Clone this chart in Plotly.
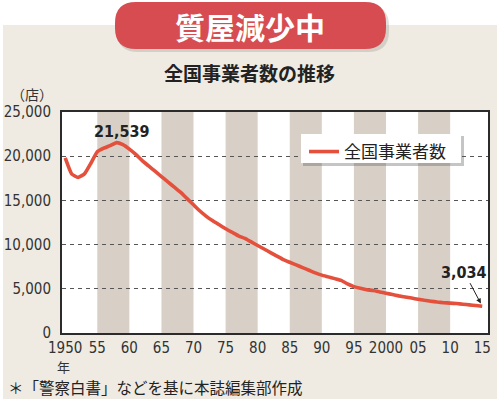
import plotly.graph_objects as go

# ---------------- data ----------------
years = list(range(1950, 2016))
shops = [19800, 18000, 17600, 18000, 19200, 20500, 20900, 21200, 21539, 21300,
         20800, 20200, 19500, 18900, 18300, 17700, 17100, 16500, 15900, 15200,
         14500, 13800, 13200, 12700, 12250, 11800, 11400, 11000, 10700, 10300,
         9900, 9500, 9100, 8700, 8300, 8000, 7700, 7400, 7100, 6800,
         6550, 6350, 6150, 5950, 5550, 5250, 5050, 4900, 4800, 4650,
         4500, 4350, 4200, 4080, 3950, 3820, 3700, 3600, 3500, 3430,
         3380, 3330, 3260, 3180, 3110, 3034]
series_name = "全国事業者数"
band_starts = [1955, 1965, 1975, 1985, 1995, 2005]
band_width = 5
x_tickvals = [1950, 1955, 1960, 1965, 1970, 1975, 1980, 1985, 1990, 1995, 2000, 2005, 2010, 2015]
x_ticktext = ["1950", "55", "60", "65", "70", "75", "80", "85", "90", "95", "2000", "05", "10", "15"]
y_tickvals = [0, 5000, 10000, 15000, 20000, 25000]
y_ticktext = ["0", "5,000", "10,000", "15,000", "20,000", "25,000"]
peak_year, peak_value = 1958, 21539
last_year, last_value = 2015, 3034

title_badge = "質屋減少中"
subtitle = "全国事業者数の推移"
unit_label = "（店）"
year_unit = "年"
footnote = "＊「警察白書」などを基に本誌編集部作成"

# ---------------- styling ----------------
W, H = 500, 399
L, R, T, B = 62, 12, 112, 66
PW, PH = W - L - R, H - T - B

def px(x):
    return (x - L) / PW

def py(y):
    return (H - B - y) / PH

NUM_FONT = "DejaVu Sans Condensed, Liberation Sans Narrow, Liberation Sans, sans-serif"
JP_FONT = "Noto Sans CJK JP, sans-serif"
BEIGE = "#efebe2"
BAND = "#d8d0c6"
RED = "#e4503c"
DARK = "#2b2b2b"

fig = go.Figure()
fig.add_trace(go.Scatter(
    x=years, y=shops, mode="lines", name=series_name,
    line=dict(color=RED, width=3.6, shape="spline", smoothing=0.4),
    hoverinfo="skip",
))

shapes = []
shapes.append(dict(type="rect", xref="paper", yref="paper",
                   x0=px(3), x1=px(497), y0=py(399), y1=py(25),
                   fillcolor=BEIGE, line=dict(width=0), layer="below"))
shapes.append(dict(type="rect", xref="paper", yref="paper",
                   x0=0, x1=1, y0=0, y1=1,
                   fillcolor="white", line=dict(width=0), layer="below"))
for s in band_starts:
    shapes.append(dict(type="rect", xref="x", yref="paper",
                       x0=s, x1=s + band_width, y0=0, y1=1,
                       fillcolor=BAND, line=dict(width=0), layer="below"))

def pill(x0, y0, x1, y1, r):
    rx, ry = r / PW, r / PH
    X0, X1 = px(x0), px(x1)
    Yt, Yb = py(y0), py(y1)
    return (f"M {X0+rx},{Yt} L {X1-rx},{Yt} Q {X1},{Yt} {X1},{Yt-ry} "
            f"L {X1},{Yb+ry} Q {X1},{Yb} {X1-rx},{Yb} "
            f"L {X0+rx},{Yb} Q {X0},{Yb} {X0},{Yb+ry} "
            f"L {X0},{Yt-ry} Q {X0},{Yt} {X0+rx},{Yt} Z")

shapes.append(dict(type="path", xref="paper", yref="paper",
                   path=pill(117, 5, 389, 52, 21),
                   fillcolor="rgba(120,110,100,0.22)", line=dict(width=0), layer="below"))
shapes.append(dict(type="path", xref="paper", yref="paper",
                   path=pill(115, 2, 386, 49, 21),
                   fillcolor="#d64c50", line=dict(width=0), layer="below"))
shapes.append(dict(type="rect", xref="paper", yref="paper",
                   x0=px(303), x1=px(464), y0=py(166), y1=py(136),
                   fillcolor="rgba(90,90,90,0.35)", line=dict(width=0), layer="above"))
shapes.append(dict(type="rect", xref="paper", yref="paper",
                   x0=px(301), x1=px(461), y0=py(163), y1=py(134),
                   fillcolor="white", line=dict(width=0), layer="above"))

annotations = [
    dict(text=f"<b>{title_badge}</b>", xref="paper", yref="paper",
         x=px(250), y=py(26), xanchor="center", yanchor="middle", showarrow=False,
         font=dict(family=JP_FONT, size=30, color="white")),
    dict(text=f"<b>{subtitle}</b>", xref="paper", yref="paper",
         x=px(249), y=py(72), xanchor="center", yanchor="middle", showarrow=False,
         font=dict(family=JP_FONT, size=19, color="#222")),
    dict(text=unit_label, xref="paper", yref="paper",
         x=px(32), y=py(94), xanchor="center", yanchor="middle", showarrow=False,
         font=dict(family=JP_FONT, size=14, color="#333")),
    dict(text=year_unit, xref="paper", yref="paper",
         x=px(63), y=py(366), xanchor="center", yanchor="middle", showarrow=False,
         font=dict(family=JP_FONT, size=13, color="#333")),
    dict(text=footnote, xref="paper", yref="paper",
         x=px(6), y=py(387), xanchor="left", yanchor="middle", showarrow=False,
         font=dict(family=JP_FONT, size=15.5, color="#222")),
    dict(text="<b>21,539</b>", x=peak_year, y=peak_value, xref="x", yref="y",
         xanchor="center", yanchor="bottom", showarrow=False, xshift=5, yshift=0,
         font=dict(family=NUM_FONT, size=16, color="#222")),
    dict(text="<b>3,034</b>", x=last_year, y=last_value, xref="x", yref="y",
         showarrow=True, ax=-18, ay=-34, axref="pixel", ayref="pixel",
         arrowhead=2, arrowsize=1, arrowwidth=1, arrowcolor="#222", standoff=3,
         font=dict(family=NUM_FONT, size=16, color="#222")),
]

fig.update_layout(
    width=W, height=H, autosize=False,
    margin=dict(l=L, r=R, t=T, b=B, pad=0, autoexpand=False),
    paper_bgcolor="white", plot_bgcolor="rgba(0,0,0,0)",
    shapes=shapes, annotations=annotations,
    showlegend=True, hovermode=False,
    legend=dict(x=px(304), y=py(134), xanchor="left", yanchor="top",
                bgcolor="rgba(0,0,0,0)", borderwidth=0, itemwidth=30,
                font=dict(family=JP_FONT, size=17, color="#222"),
                tracegroupgap=0),
    xaxis=dict(range=[1949.5, 2015.9], tickvals=x_tickvals, ticktext=x_ticktext,
               automargin=False,
               showgrid=False, zeroline=False, showline=True, mirror=True,
               linecolor=DARK, linewidth=2, ticks="", ticklabelstandoff=0,
               tickfont=dict(family=NUM_FONT, size=15, color="#333")),
    yaxis=dict(range=[0, 25000], tickvals=y_tickvals, ticktext=y_ticktext,
               automargin=False,
               showgrid=True, gridcolor="#555", griddash="4px,4px", gridwidth=1,
               zeroline=False, showline=True, mirror=True,
               linecolor=DARK, linewidth=2, ticks="", ticklabelstandoff=6,
               tickfont=dict(family=NUM_FONT, size=15, color="#333")),
)

fig.write_html("out.html", config={"displayModeBar": False, "staticPlot": True},
               post_script="document.body.style.margin='0px';document.body.style.overflow='hidden';")
